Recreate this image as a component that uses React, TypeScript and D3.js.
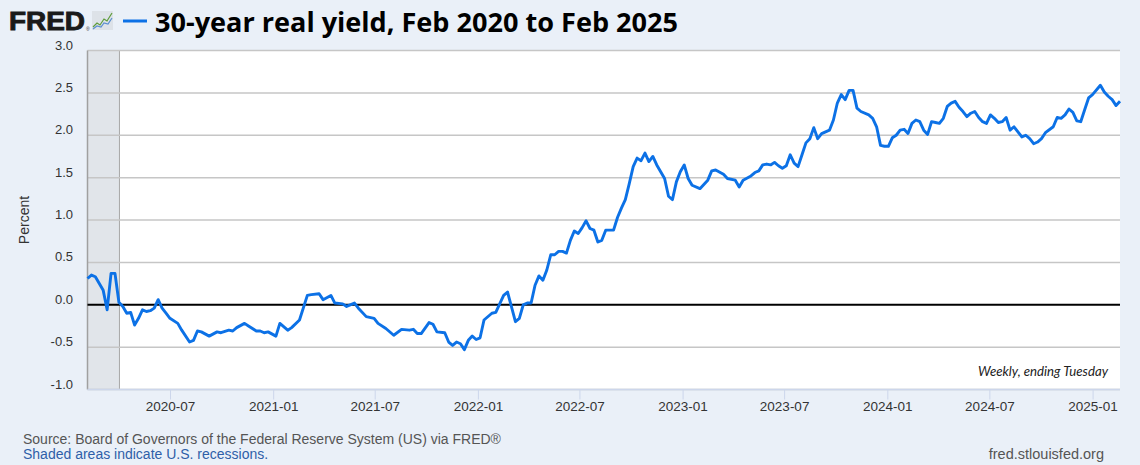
import React from "react";
import * as d3 from "d3";

// weekly observations (Tuesdays), indexed in weeks from the first one
const START = "2020-02-04";
const END = "2025-02-18";

const weekIndex = [
  0, 1, 2, 3, 4, 5, 6, 7, 8, 9, 10, 11, 12, 13, 14, 15, 16, 17, 18, 19, 20, 21, 23, 24, 26, 27, 28, 29, 31, 33,
  34, 36, 37, 38, 40, 41, 43, 44, 45, 46, 48, 49, 51, 52, 54, 56, 57, 59, 60, 62, 63, 65, 66, 68, 69, 71, 73, 74,
  76, 78, 80, 82, 83, 84, 85, 87, 88, 89, 91, 92, 93, 94, 95, 96, 97, 98, 99, 100, 101, 103, 104, 105, 106, 107,
  109, 110, 111, 112, 113, 114, 115, 116, 117, 118, 119, 120, 121, 122, 123, 124, 125, 126, 127, 128, 129, 130,
  131, 132, 134, 135, 136, 137, 138, 139, 140, 141, 142, 143, 144, 145, 147, 148, 149, 150, 151, 152, 153, 154,
  156, 158, 159, 160, 162, 163, 165, 166, 167, 169, 170, 171, 172, 173, 174, 175, 176, 177, 178, 179, 180, 181,
  182, 183, 184, 185, 186, 187, 189, 190, 191, 192, 193, 194, 195, 196, 197, 199, 200, 201, 202, 203, 204, 205,
  206, 207, 208, 209, 210, 211, 212, 213, 214, 215, 216, 217, 218, 219, 220, 221, 222, 223, 224, 225, 226, 227,
  228, 229, 230, 231, 232, 233, 234, 235, 236, 237, 238, 239, 240, 241, 242, 243, 244, 246, 247, 248, 249, 250,
  251, 252, 253, 254, 255, 256, 258, 259, 260, 261, 262, 263,
];

const realYield = [
  0.31, 0.35, 0.33, 0.25, 0.17, -0.06, 0.37, 0.37, 0.03, -0.02, -0.1, -0.09, -0.24, -0.16, -0.06, -0.08, -0.07,
  -0.04, 0.06, -0.04, -0.1, -0.16, -0.22, -0.3, -0.44, -0.42, -0.31, -0.32, -0.37, -0.32,
  -0.33, -0.3, -0.31, -0.27, -0.22, -0.25, -0.31, -0.31, -0.33, -0.32, -0.37, -0.22, -0.3, -0.27, -0.18, 0.11,
  0.12, 0.13, 0.06, 0.11, 0.02, 0.01, -0.02, 0.02, -0.04, -0.14, -0.16, -0.22,
  -0.28, -0.36, -0.29, -0.3, -0.29, -0.34, -0.34, -0.21, -0.23, -0.32, -0.33, -0.44, -0.48, -0.44, -0.46, -0.53,
  -0.42, -0.37, -0.41, -0.39, -0.18, -0.1, -0.09, 0.01, 0.11, 0.15,
  -0.2, -0.16, 0.0, 0.02, 0.02, 0.23, 0.34, 0.29, 0.41, 0.59, 0.59, 0.63, 0.63, 0.61, 0.76, 0.87, 0.84, 0.91,
  0.99, 0.9, 0.88, 0.74,
  0.76, 0.88, 0.88, 1.03, 1.14, 1.24, 1.43, 1.63, 1.73, 1.7, 1.79, 1.69, 1.75, 1.65, 1.49, 1.28, 1.24, 1.45,
  1.57, 1.65, 1.49, 1.41,
  1.37, 1.47, 1.58, 1.59, 1.54, 1.49, 1.47, 1.39, 1.47, 1.52, 1.56, 1.58, 1.65, 1.66, 1.65, 1.68, 1.64, 1.61,
  1.64, 1.77, 1.67, 1.63,
  1.77, 1.91, 1.96, 2.09, 1.96, 2.02, 2.06, 2.18, 2.38, 2.48, 2.42, 2.53, 2.53, 2.32, 2.28, 2.24, 2.2, 2.1,
  1.88, 1.87, 1.87, 1.97,
  2.0, 2.06, 2.07, 2.02, 2.14, 2.18, 2.16, 2.06, 2.01, 2.16, 2.15, 2.14, 2.2, 2.34, 2.38, 2.4, 2.33, 2.28, 2.22,
  2.26, 2.28, 2.21,
  2.16, 2.14, 2.24, 2.2, 2.15, 2.16, 2.21, 2.06, 2.1, 2.04, 1.98, 2.0, 1.96, 1.9, 1.92, 1.96, 2.03, 2.1, 2.21,
  2.2, 2.24, 2.31,
  2.27, 2.17, 2.16, 2.3, 2.44, 2.48, 2.59, 2.51, 2.46, 2.42, 2.35, 2.4,
];

const recessionStart = ["2020-02-01"];
const recessionEnd = ["2020-04-01"];

const yTicks = [-1.0, -0.5, 0.0, 0.5, 1.0, 1.5, 2.0, 2.5, 3.0];

const TITLE = "30-year real yield, Feb 2020 to Feb 2025";
const BLUE = "#0c71e6";
const BG = "#eaf0f8";

const W = 1140;
const H = 465;
const left = 87.5;
const right = 1120;
const top = 50.5;
const bottom = 389.5;

const App = () => {
  const parse = d3.utcParse("%Y-%m-%d");
  const t0 = parse(START) as Date;
  const t1 = parse(END) as Date;

  const x = d3.scaleUtc().domain([t0, t1]).range([left, right]);
  const y = d3.scaleLinear().domain([-1, 3]).range([bottom, top]);

  const points = weekIndex.map((w, i) => ({ date: d3.utcDay.offset(t0, w * 7), value: realYield[i] }));
  const line = d3
    .line<{ date: Date; value: number }>()
    .x((d) => x(d.date))
    .y((d) => y(d.value));

  const xTicks = x.ticks(d3.utcMonth.every(6) as d3.TimeInterval);
  const fmt = d3.utcFormat("%Y-%m");

  const recessions = recessionStart.map((s, i) => {
    const a = Math.max(x(parse(s) as Date), left);
    const b = Math.min(x(parse(recessionEnd[i]) as Date), right);
    return { a, b };
  });

  const sans = "'Liberation Sans', Arial, sans-serif";

  return (
    <svg width={W} height={H} style={{ position: "absolute", left: 0, top: 0, display: "block" }}>
      <rect x={0} y={0} width={W} height={H} fill={BG} />

      {/* header */}
      <text x={9} y={30} fontFamily={sans} fontWeight={900} fontSize={25} fill="#1a1a1a" stroke="#1a1a1a"
        strokeWidth={0.9} textLength={76} lengthAdjust="spacingAndGlyphs">FRED</text>
      <text x={86} y={31} fontFamily={sans} fontSize={5} fill="#333">®</text>
      <rect x={92} y={11} width={21} height={19} fill="#dde2e8" />
      <polyline points="93,27 97,23 100,25 104,19 107,21 112,13" fill="none" stroke="#5e9c3c" strokeWidth={1.2} />
      <polyline points="93,29 97,26 101,27 104,23 108,24 112,18" fill="none" stroke="#5b8fd0" strokeWidth={1.2} />
      <line x1={123} x2={147} y1={21} y2={21} stroke={BLUE} strokeWidth={3} />
      <text x={155} y={32} fontFamily="'Open Sans', sans-serif" fontWeight={700} fontSize={26} fill="#000"
        textLength={523} lengthAdjust="spacingAndGlyphs">{TITLE}</text>

      {/* plot area */}
      <rect x={left} y={top} width={right - left} height={bottom - top} fill="#fff" />
      {recessions.map((r, i) => (
        <g key={i}>
          <rect x={r.a} y={top} width={r.b - r.a} height={bottom - top} fill="#e1e5ea" />
          <line x1={r.b} x2={r.b} y1={top} y2={bottom} stroke="#a8a8a8" strokeWidth={1} />
        </g>
      ))}

      {yTicks.map((t) => (
        <g key={t}>
          {t !== 0 && (
            <line x1={left} x2={right} y1={y(t)} y2={y(t)} stroke="#c6c6c6" strokeWidth={1.5} />
          )}
          <text x={73} y={y(t) - 1} textAnchor="end" fontFamily={sans} fontSize={13} fill="#333">
            {t.toFixed(1)}
          </text>
        </g>
      ))}

      <line x1={left} x2={left} y1={top} y2={bottom} stroke="#a0a0a0" strokeWidth={1.5} />
      <line x1={left} x2={right} y1={bottom} y2={bottom} stroke="#ccd6eb" strokeWidth={1.5} />
      {xTicks.map((t) => (
        <g key={t.getTime()}>
          <line x1={x(t)} x2={x(t)} y1={bottom} y2={bottom + 10} stroke="#ccd6eb" strokeWidth={1} />
          <text x={x(t)} y={411} textAnchor="middle" fontFamily={sans} fontSize={13.5} fill="#333">
            {fmt(t)}
          </text>
        </g>
      ))}

      <line x1={left} x2={right} y1={y(0)} y2={y(0)} stroke="#000" strokeWidth={2} />
      <path d={line(points) ?? ""} fill="none" stroke={BLUE} strokeWidth={2.9} strokeLinejoin="round" />

      <text transform={`translate(29,${(top + bottom) / 2}) rotate(-90)`} textAnchor="middle"
        fontFamily={sans} fontSize={14} fill="#333">Percent</text>

      <text x={1108} y={376} textAnchor="end" fontFamily="Lato, sans-serif" fontStyle="italic" fontSize={12.5}
        fill="#222" textLength={130} lengthAdjust="spacingAndGlyphs">Weekly, ending Tuesday</text>

      <text x={23} y={444} fontFamily={sans} fontSize={14} fill="#555">
        Source: Board of Governors of the Federal Reserve System (US) via FRED®
      </text>
      <text x={23} y={459} fontFamily={sans} fontSize={14} fill="#2f5fa8">
        Shaded areas indicate U.S. recessions.
      </text>
      <text x={1104} y={459} textAnchor="end" fontFamily={sans} fontSize={14.5} fill="#555">
        fred.stlouisfed.org
      </text>
    </svg>
  );
};

export default App;
